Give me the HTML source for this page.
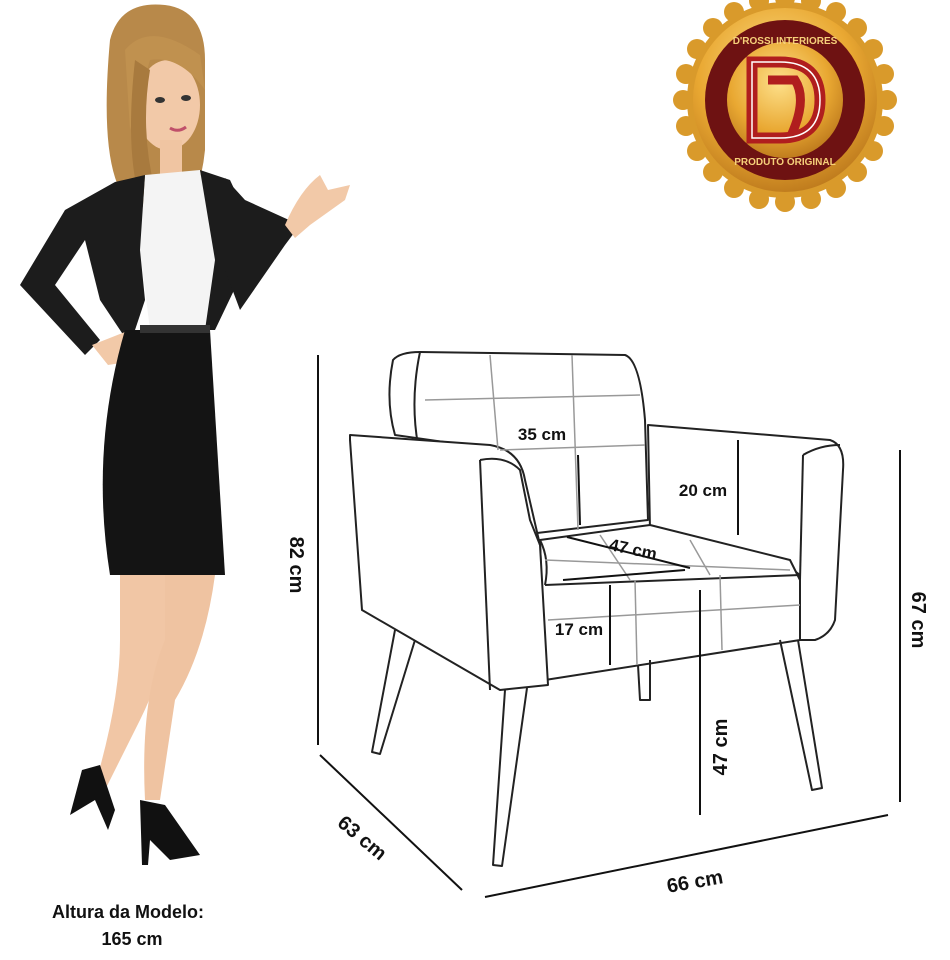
<!DOCTYPE html>
<html><head><meta charset="utf-8"><style>
html,body{margin:0;padding:0;background:#fff;}
svg{display:block}
text{font-family:"Liberation Sans",sans-serif;font-weight:bold;fill:#111}
</style></head><body>
<svg width="950" height="960" viewBox="0 0 950 960" xmlns="http://www.w3.org/2000/svg">
<defs>
<radialGradient id="gold" cx="45%" cy="35%" r="70%"><stop offset="0" stop-color="#fde08a"/><stop offset="0.6" stop-color="#e9a832"/><stop offset="1" stop-color="#b8741a"/></radialGradient>
</defs>
<!-- Woman -->
<g>
<path d="M110 40 Q120 0 165 5 Q205 10 205 60 L205 150 Q200 200 175 230 L155 230 Q145 200 120 190 Q100 150 110 40Z" fill="#b8894a"/>
<ellipse cx="168" cy="105" rx="32" ry="45" fill="#f2c9a8"/>
<path d="M125 50 Q150 20 200 55 L205 90 Q180 55 150 60 L130 130 Z" fill="#c0914f"/>
<path d="M135 60 Q125 150 140 200 L155 190 Q140 130 150 70Z" fill="#a87a3e"/>
<ellipse cx="160" cy="100" rx="5" ry="3" fill="#333"/><ellipse cx="186" cy="98" rx="5" ry="3" fill="#333"/>
<path d="M170 128 Q178 133 186 127" stroke="#c0506a" stroke-width="3" fill="none"/>
<rect x="160" y="140" width="22" height="35" fill="#f0c5a2"/>
<path d="M145 175 L200 170 L215 260 L205 330 L150 330 L140 250Z" fill="#f4f4f4"/>
<!-- jacket left body + arm to hip -->
<path d="M145 175 L115 182 L65 210 L20 285 L85 355 L100 340 L55 285 L85 240 L100 300 L130 345 L145 300 L140 250Z" fill="#1c1c1c"/>
<path d="M200 170 L230 180 L258 240 L215 330 L205 330 L215 260Z" fill="#1c1c1c"/>
<!-- right sleeve to raised hand -->
<path d="M225 178 L245 200 L300 225 L285 245 L240 310 L225 270Z" fill="#1c1c1c"/>
<path d="M285 225 Q300 190 320 175 L328 190 L350 185 L345 200 L310 225 L295 238Z" fill="#f2c9a8"/>
<path d="M92 345 L125 332 L140 360 L108 365Z" fill="#f2c9a8"/>
<path d="M125 330 L210 330 L225 575 L110 575 Q90 450 125 330Z" fill="#141414"/>
<rect x="140" y="325" width="70" height="8" fill="#333"/>
<path d="M120 575 L170 575 Q175 650 140 720 L105 790 L95 785 Q120 700 120 640Z" fill="#f1c6a5"/>
<path d="M165 575 L215 575 Q205 650 175 700 L160 800 L145 800 Q140 700 165 640Z" fill="#efc3a1"/>
<path d="M82 770 L100 765 L115 810 L108 830 L95 800 L70 815 Z" fill="#111"/>
<path d="M140 800 L165 805 L200 855 L170 860 L150 840 L148 865 L142 865Z" fill="#111"/>
</g>
<text x="128" y="918" font-size="18" text-anchor="middle">Altura da Modelo:</text>
<text x="132" y="945" font-size="18" text-anchor="middle">165 cm</text>

<!-- Badge -->
<g>
<g fill="#d99a2b">
<circle cx="785" cy="100" r="98"/>
<circle cx="785" cy="-2" r="10"/><circle cx="811" cy="1" r="10"/><circle cx="836" cy="12" r="10"/><circle cx="857" cy="28" r="10"/><circle cx="873" cy="49" r="10"/><circle cx="884" cy="74" r="10"/><circle cx="887" cy="100" r="10"/><circle cx="884" cy="126" r="10"/><circle cx="873" cy="151" r="10"/><circle cx="857" cy="172" r="10"/><circle cx="836" cy="188" r="10"/><circle cx="811" cy="199" r="10"/><circle cx="785" cy="202" r="10"/><circle cx="759" cy="199" r="10"/><circle cx="734" cy="188" r="10"/><circle cx="713" cy="172" r="10"/><circle cx="697" cy="151" r="10"/><circle cx="686" cy="126" r="10"/><circle cx="683" cy="100" r="10"/><circle cx="686" cy="74" r="10"/><circle cx="697" cy="49" r="10"/><circle cx="713" cy="28" r="10"/><circle cx="734" cy="12" r="10"/><circle cx="759" cy="1" r="10"/>
</g>
<circle cx="785" cy="100" r="92" fill="url(#gold)"/>
<circle cx="785" cy="100" r="80" fill="#6e1212"/>
<circle cx="785" cy="100" r="58" fill="url(#gold)"/>
<path d="M752 62 L780 62 Q820 62 820 100 Q820 138 780 138 L752 138Z" fill="none" stroke="#b01e1e" stroke-width="11"/>
<path d="M768 80 L795 80 Q808 100 790 138" fill="none" stroke="#b01e1e" stroke-width="9"/>
<path d="M752 62 L780 62 Q820 62 820 100 Q820 138 780 138 L752 138Z" fill="none" stroke="#fff" stroke-width="1.5"/>
<text x="785" y="44" font-size="10" text-anchor="middle" style="fill:#f6d07a">D'ROSSI INTERIORES</text>
<text x="785" y="165" font-size="10" text-anchor="middle" style="fill:#f6d07a">PRODUTO ORIGINAL</text>
</g>

<!-- Chair -->
<g fill="none" stroke="#222" stroke-width="2" stroke-linejoin="round">
<path d="M393 360 Q400 352 420 352 L625 355 Q640 360 645 420 L648 520 L520 535 L500 450 L395 435 Q385 400 393 360Z" fill="#fff"/>
<path d="M420 352 Q410 400 418 445"/>
<path d="M648 425 L830 440 Q845 445 843 470 L835 620 Q830 635 815 640 L800 640 L800 575 L780 560 L650 530Z" fill="#fff"/>
<path d="M803 455 Q820 445 840 445"/>
<path d="M803 455 L800 580"/>
<path d="M540 540 L650 525 L790 560 L800 580 L800 640 L545 680 Z" fill="#fff"/>
<path d="M540 540 Q550 560 545 585"/>
<path d="M545 585 L800 575"/>
<path d="M350 435 L490 445 Q520 450 525 480 L540 545 L548 685 L500 690 L362 610 L350 440Z" fill="#fff"/>
<path d="M480 460 Q505 455 520 470 L530 520 L540 545"/>
<path d="M480 460 L490 690"/>
<path d="M395 630 L372 752 L380 754 L415 640"/>
<path d="M505 690 L493 865 L502 866 L527 688"/>
<path d="M638 665 L640 700 L650 700 L650 660"/>
<path d="M780 640 L812 790 L822 788 L798 640"/>
</g>
<g fill="none" stroke="#999" stroke-width="1.5">
<path d="M490 355 L498 450"/><path d="M572 355 L578 530"/><path d="M425 400 L640 395"/><path d="M500 450 L645 445"/>
<path d="M545 560 L790 570"/><path d="M548 620 L800 605"/><path d="M635 580 L637 665"/><path d="M720 575 L722 650"/>
<path d="M600 535 L630 580"/><path d="M690 540 L710 575"/>
</g>
<g stroke="#111" stroke-width="2">
<line x1="578" y1="455" x2="580" y2="525"/>
<line x1="738" y1="440" x2="738" y2="535"/>
<line x1="567" y1="537" x2="690" y2="568"/>
<line x1="563" y1="580" x2="685" y2="570"/>
<line x1="610" y1="585" x2="610" y2="665"/>
</g>
<text x="542" y="440" font-size="17" text-anchor="middle">35 cm</text>
<text x="703" y="496" font-size="17" text-anchor="middle">20 cm</text>
<text x="633" y="555" font-size="17" text-anchor="middle" transform="rotate(12 633 550)">47 cm</text>
<text x="579" y="635" font-size="17" text-anchor="middle">17 cm</text>

<g stroke="#111" stroke-width="2">
<line x1="318" y1="355" x2="318" y2="745"/>
<line x1="320" y1="755" x2="462" y2="890"/>
<line x1="485" y1="897" x2="888" y2="815"/>
<line x1="900" y1="450" x2="900" y2="802"/>
<line x1="700" y1="590" x2="700" y2="815"/>
</g>
<text font-size="20" text-anchor="middle" transform="translate(290 565) rotate(90)">82 cm</text>
<text font-size="20" text-anchor="middle" transform="translate(912 620) rotate(90)">67 cm</text>
<text font-size="20" text-anchor="middle" transform="translate(727 747) rotate(-90)">47 cm</text>
<text font-size="20" text-anchor="middle" transform="translate(358 843) rotate(40)">63 cm</text>
<text font-size="20" text-anchor="middle" transform="translate(696 888) rotate(-10)">66 cm</text>
</svg>
</body></html>
